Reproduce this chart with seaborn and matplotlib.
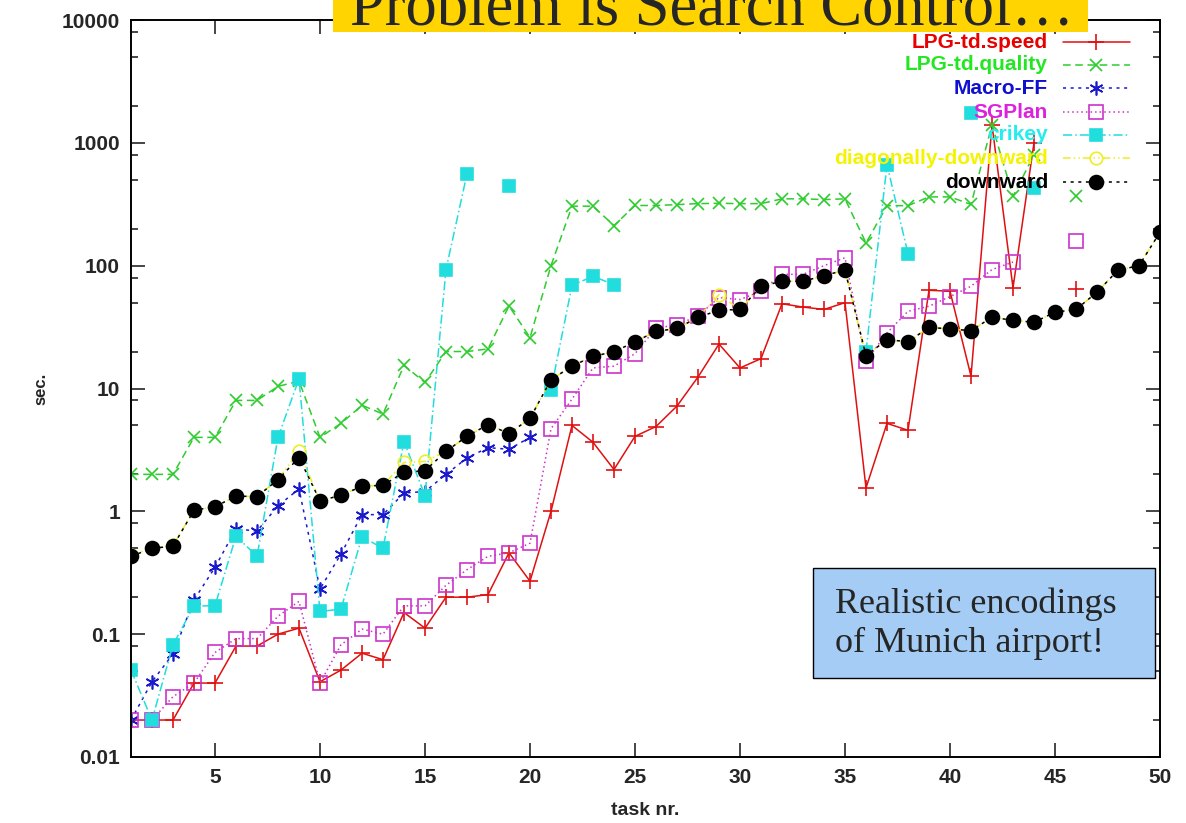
import numpy as np
import pandas as pd
import seaborn as sns
import matplotlib.pyplot as plt
from matplotlib.patches import Rectangle
from matplotlib.ticker import FixedLocator, FixedFormatter, LogLocator, NullFormatter

nan = np.nan
tasks = list(range(1, 51))

# tempos (sec.) por tarefa; nan = sem solução
lpg_speed = [0.02, 0.02, 0.02, 0.04, 0.04, 0.08, 0.08, 0.10, 0.112, 0.041,
             0.051, 0.070, 0.062, 0.15, 0.112, 0.20, 0.20, 0.21, 0.46, 0.27,
             1.0, 5.0, 3.65, 2.19, 4.08, 4.9, 7.2, 12.4, 23, 14.7,
             17.5, 49, 46, 44, 50, 1.55, 5.2, 4.57, 63, 62,
             12.6, 1400, 66, 1000, nan, 65, nan, nan, nan, nan]
lpg_quality = [2, 2, 2, 4, 4, 8, 8, 10.4, 11.5, 4.0,
               5.2, 7.3, 6.2, 15.4, 11.2, 20, 20, 21, 47, 26,
               100, 305, 305, 212, 309, 309, 314, 320, 322, 320,
               320, 350, 350, 345, 350, 153, 308, 308, 363, 363,
               315, 1400, 367, 800, nan, 367, nan, nan, nan, nan]
macro_ff = [0.02, 0.041, 0.069, 0.19, 0.35, 0.72, 0.69, 1.11, 1.52, 0.233,
            0.45, 0.94, 0.94, 1.41, 1.45, 2.0, 2.72, 3.3, 3.2, 4.0,
            nan, nan, nan, nan, nan, nan, nan, nan, nan, nan,
            nan, nan, nan, nan, nan, nan, nan, nan, nan, nan,
            nan, nan, nan, nan, nan, nan, nan, nan, nan, nan]
sgplan = [0.02, 0.02, 0.031, 0.04, 0.071, 0.092, 0.092, 0.14, 0.185, 0.04,
          0.082, 0.11, 0.10, 0.17, 0.17, 0.25, 0.335, 0.43, 0.46, 0.55,
          4.7, 8.2, 14.7, 15.2, 19.2, 31, 33, 39, 55, 53,
          62, 85, 85, 100, 116, 16.7, 28.4, 42.5, 46.8, 56,
          68, 93, 107, nan, nan, 158, nan, nan, nan, nan]
crikey = [0.051, 0.02, 0.082, 0.17, 0.17, 0.63, 0.43, 4.0, 12, 0.153,
          0.16, 0.62, 0.50, 3.7, 1.34, 93, 560, nan, 443, nan,
          9.8, 69, 82, 70, nan, nan, nan, nan, nan, nan,
          nan, nan, nan, nan, nan, 20, 665, 125, nan, nan,
          1750, nan, nan, 430, nan, nan, nan, nan, nan, nan]
diag_down = [0.44, 0.50, 0.53, 1.02, 1.09, 1.33, 1.32, 1.81, 3.1, 1.22,
             1.35, 1.6, 1.63, 2.5, 2.55, 3.08, 4.08, 5.08, 4.3, 5.7,
             11.8, 15.2, 18.3, 19.9, 24, 29.2, 30.8, 38, 58, 44,
             68, 74.6, 74.6, 83, 92, 18.5, 25, 24, 31.5, 30.5,
             29.6, 38, 35.9, 34.6, 41.8, 44, 60.8, 92, 100, 187]
downward = [0.43, 0.50, 0.52, 1.02, 1.09, 1.33, 1.32, 1.81, 2.74, 1.22,
            1.35, 1.6, 1.63, 2.08, 2.14, 3.08, 4.08, 5.08, 4.3, 5.7,
            11.8, 15.2, 18.3, 19.9, 24, 29.2, 30.8, 38, 43.4, 44,
            68, 74.6, 74.6, 83, 92, 18.5, 25, 24, 31.5, 30.5,
            29.6, 38, 35.9, 34.6, 41.8, 44, 60.8, 92, 100, 187]

nomes = ['LPG-td.speed', 'LPG-td.quality', 'Macro-FF', 'SGPlan', 'crikey',
         'diagonally-downward', 'downward']
series = [lpg_speed, lpg_quality, macro_ff, sgplan, crikey, diag_down, downward]

# estilo de cada planejador (cor da linha, cor do texto, tracejado, marcador)
estilos = [
    dict(color='#e01010', txt='#e80000', ls='-', marker='+', ms=11, mfc='#e01010'),
    dict(color='#2ecc2e', txt='#22e822', ls=(0, (5, 3)), marker='x', ms=9, mfc='#2ecc2e'),
    dict(color='#1a1acc', txt='#1010d0', ls=(0, (2, 3)), marker=(6, 2, 0), ms=10, mfc='#1a1acc'),
    dict(color='#cc33cc', txt='#dd22dd', ls=(0, (1, 2)), marker='s', ms=10, mfc='none'),
    dict(color='#22dddd', txt='#22eeee', ls=(0, (6, 2, 1, 2)), marker='s', ms=9, mfc='#22dddd'),
    dict(color='#eeee22', txt='#f4f400', ls=(0, (5, 2, 1, 2, 1, 2)), marker='o', ms=9, mfc='none'),
    dict(color='black', txt='black', ls=(0, (2, 3)), marker='o', ms=10, mfc='black'),
]

sns.set_style('ticks')
plt.rcParams['font.family'] = ['Liberation Sans', 'DejaVu Sans']

fig = plt.figure(figsize=(11.86, 8.23), dpi=100)
ax = fig.add_axes([131 / 1186, 1 - 757 / 823, 1029 / 1186, 737 / 823])

for nome, vals, st in zip(nomes, series, estilos):
    s = pd.Series(vals, dtype=float)
    df = pd.DataFrame({'task': tasks, 'sec': s, 'seg': s.isna().cumsum()}).dropna()
    sns.lineplot(data=df, x='task', y='sec', units='seg', estimator=None, ax=ax,
                 color=st['color'], linestyle=st['ls'], linewidth=1.1,
                 marker=st['marker'], markersize=st['ms'], markerfacecolor=st['mfc'],
                 markeredgecolor=st['color'], markeredgewidth=1.2, legend=False)

ax.set_yscale('log')
ax.set_xlim(1, 50)
ax.set_ylim(0.01, 10000)

yt = [0.01, 0.1, 1, 10, 100, 1000, 10000]
ax.yaxis.set_major_locator(FixedLocator(yt))
ax.yaxis.set_major_formatter(FixedFormatter(['0.01', '0.1', '1', '10', '100', '1000', '10000']))
ax.yaxis.set_minor_locator(LogLocator(base=10, subs=[2, 5, 8]))
ax.yaxis.set_minor_formatter(NullFormatter())
ax.set_xticks(range(5, 51, 5))

ax.tick_params(which='both', direction='in', top=True, right=True, width=1.2)
ax.tick_params(which='major', length=10, labelsize=15, pad=8)
ax.tick_params(which='minor', length=5)
for lab in ax.get_xticklabels() + ax.get_yticklabels():
    lab.set_fontweight('bold')
for sp in ax.spines.values():
    sp.set_linewidth(1.4)
    sp.set_color('black')

ax.set_xlabel('task nr.', fontsize=14, fontweight='bold')
ax.set_ylabel('sec.', fontsize=12, fontweight='bold')
ax.xaxis.set_label_coords(0.5, -0.061)
ax.yaxis.set_label_coords(-0.080, 0.5)

# legenda no estilo gnuplot: texto colorido alinhado à direita, amostra à direita
linhas_y = [42, 65, 88, 112, 135, 158, 182]
for nome, st, ypx in zip(nomes, estilos, linhas_y):
    ya = (757 - ypx) / 737
    ax.text((1048 - 131) / 1029, ya, nome, transform=ax.transAxes, ha='right', va='center',
            fontsize=15, fontweight='bold', color=st['txt'])
    ax.plot([(1063 - 131) / 1029, (1130 - 131) / 1029], [ya, ya], transform=ax.transAxes,
            color=st['color'], linestyle=st['ls'], linewidth=1.1, clip_on=False)
    ax.plot([(1096 - 131) / 1029], [ya], transform=ax.transAxes, linestyle='none',
            marker=st['marker'], markersize=st['ms'], markerfacecolor=st['mfc'],
            markeredgecolor=st['color'], markeredgewidth=1.2, clip_on=False)

# faixa amarela do título (cortada no topo)
fig.patches.append(Rectangle((333 / 1186, 1 - 32 / 823), (1088 - 333) / 1186, 40 / 823,
                             transform=fig.transFigure, facecolor='#ffd400', edgecolor='none', zorder=5))
fig.text(350 / 1186, 1 - 26 / 823, 'Problem is Search Control…', fontsize=45,
         family=['Liberation Serif', 'DejaVu Serif'], va='baseline', ha='left', zorder=6)

# caixa de comentário
fig.patches.append(Rectangle((813 / 1186, 1 - 678 / 823), (1155 - 813) / 1186, 110 / 823,
                             transform=fig.transFigure, facecolor='#a4ccf4', edgecolor='black',
                             linewidth=1, zorder=5))
fig.text(835 / 1186, 1 - 624 / 823, 'Realistic encodings\nof Munich airport!', fontsize=26,
         family=['Liberation Serif', 'DejaVu Serif'], va='center', ha='left', linespacing=1.25,
         zorder=6)

fig.savefig('out.png', dpi=100, facecolor='white')
